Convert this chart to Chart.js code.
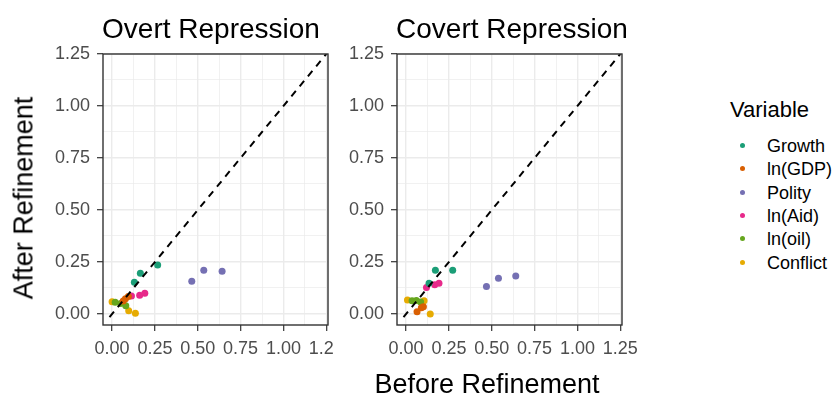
<!DOCTYPE html>
<html lang="en">
<head>
    <meta charset="UTF-8">
    <title>Before vs After Refinement</title>
    <script src="https://cdn.jsdelivr.net/npm/chart.js@4.4.0/dist/chart.umd.min.js"></script>
    <style>
        body { margin: 0; background: #fff; font-family: "Liberation Sans", Arial, sans-serif; }
        #page { position: relative; width: 834px; height: 396px; overflow: hidden; }
        canvas { position: absolute; top: 0; }
        .txt { position: absolute; white-space: nowrap; color: #000; }
        .title { font-size: 28px; line-height: 28px; transform: translateX(-50%); }
        .axis-title { font-size: 27px; line-height: 27px; }
        #legend { position: absolute; left: 730px; top: 0; }
        .legend-title { position: absolute; left: 0; font-size: 22px; line-height: 22px; white-space: nowrap; }
        .legend-item { position: absolute; left: 10px; font-size: 18px; line-height: 18px; white-space: nowrap; }
        .legend-item i { position: absolute; left: 0; top: 6px; width: 5px; height: 5px; border-radius: 50%; }
        .legend-item span { position: absolute; left: 27px; top: 0; }
    </style>
</head>
<body>
<div id="page">
    <canvas id="overt_canvas" width="333" height="396" style="left:0"></canvas>
    <canvas id="covert_canvas" width="300" height="396" style="left:340px"></canvas>

    <div class="txt title" style="left:211px; top:15px">Overt Repression</div>
    <div class="txt title" style="left:512px; top:15px">Covert Repression</div>
    <div class="txt axis-title" style="left:487px; top:371px; transform:translateX(-50%)">Before Refinement</div>
    <div class="txt axis-title" style="left:24px; top:198px; transform:translate(-50%,-50%) rotate(-90deg)">After Refinement</div>

    <div id="legend"></div>
</div>
<script>
    // variables and their Dark2 colours
    const variables = ['Growth', 'ln(GDP)', 'Polity', 'ln(Aid)', 'ln(oil)', 'Conflict'];
    const colors = ['#1B9E77', '#D95F02', '#7570B3', '#E7298A', '#66A61E', '#E6AB02'];

    // overt repression: one row per variable (same order as above)
    const overtBefore = [
        [0.130, 0.165, 0.266],
        [0.065, 0.078, 0.095],
        [0.465, 0.535, 0.642],
        [0.113, 0.161, 0.191],
        [0.018, 0.050, 0.080],
        [0.000, 0.097, 0.136]
    ];
    const overtAfter = [
        [0.153, 0.196, 0.236],
        [0.062, 0.073, 0.084],
        [0.157, 0.210, 0.205],
        [0.087, 0.090, 0.100],
        [0.056, 0.050, 0.040],
        [0.059, 0.016, 0.003]
    ];

    // covert repression
    const covertBefore = [
        [0.134, 0.171, 0.272],
        [0.064, 0.089, 0.101],
        [0.469, 0.539, 0.640],
        [0.119, 0.167, 0.192],
        [0.035, 0.060, 0.085],
        [0.008, 0.105, 0.141]
    ];
    const covertAfter = [
        [0.148, 0.210, 0.210],
        [0.011, 0.030, 0.035],
        [0.132, 0.172, 0.183],
        [0.127, 0.140, 0.148],
        [0.063, 0.065, 0.058],
        [0.067, 0.064, 0.000]
    ];

    // axis range, labelled ticks and grid lines (major + minor)
    const axisMin = -0.053;
    const xAxisMax = 1.26;
    const yAxisMax = 1.25;
    const gridValues = [0, 0.125, 0.25, 0.375, 0.5, 0.625, 0.75, 0.875, 1, 1.125, 1.25];
    const diagonal = [-0.015, 1.25];

    Chart.defaults.font.family = '"Liberation Sans", Arial, sans-serif';

    function isMajor(v) {
        return Math.abs(v / 0.25 - Math.round(v / 0.25)) < 1e-6;
    }

    const panelBorder = {
        id: 'panelBorder',
        afterDraw(chart) {
            const {ctx, chartArea: a} = chart;
            ctx.save();
            ctx.strokeStyle = '#333333';
            ctx.lineWidth = 1.4;
            ctx.strokeRect(a.left, a.top, a.right - a.left, a.bottom - a.top);
            ctx.restore();
        }
    };

    function axisOptions(max, fitFn) {
        return {
            type: 'linear',
            min: axisMin,
            max: max,
            afterBuildTicks: (axis) => { axis.ticks = gridValues.map(v => ({value: v})); },
            afterFit: (s) => {
                fitFn(s);
                // keep edge labels from shrinking the panel
                s.paddingLeft = s.paddingRight = s.paddingTop = s.paddingBottom = 0;
            },
            border: {display: false},
            grid: {
                color: '#EBEBEB',
                lineWidth: (c) => isMajor(c.tick.value) ? 1.4 : 0.7,
                drawTicks: true,
                tickLength: 6,
                tickWidth: 1.2,
                tickColor: (c) => isMajor(c.tick.value) ? '#333333' : 'rgba(0,0,0,0)'
            },
            ticks: {
                autoSkip: false,
                maxRotation: 0,
                padding: 7,
                color: '#4D4D4D',
                font: {size: 18},
                callback: (v) => isMajor(v) ? v.toFixed(2) : ''
            }
        };
    }

    function makePanel(canvasId, before, after, yAxisWidth, rightPad) {
        const datasets = [{
            type: 'line',
            data: diagonal.map(v => ({x: v, y: v})),
            borderColor: '#000',
            borderWidth: 2,
            borderDash: [7, 6],
            pointRadius: 0,
            order: 0
        }];
        variables.forEach((name, i) => {
            datasets.push({
                label: name,
                data: before[i].map((x, j) => ({x: x, y: after[i][j]})),
                backgroundColor: colors[i],
                borderWidth: 0,
                pointRadius: 3.5,
                order: 1 + i
            });
        });
        const ctx = document.getElementById(canvasId).getContext('2d');
        return new Chart(ctx, {
            type: 'scatter',
            data: {datasets: datasets},
            options: {
                responsive: false,
                animation: false,
                devicePixelRatio: 1,
                layout: {
                    autoPadding: false,
                    padding: {left: 0, top: 54, right: rightPad, bottom: 41}
                },
                plugins: {legend: {display: false}, tooltip: {enabled: false}},
                scales: {
                    x: axisOptions(xAxisMax, (s) => { s.height = 30; }),
                    y: axisOptions(yAxisMax, (s) => { s.width = yAxisWidth; })
                }
            },
            plugins: [panelBorder]
        });
    }

    makePanel('overt_canvas', overtBefore, overtAfter, 103, 5);
    makePanel('covert_canvas', covertBefore, covertAfter, 57, 18);

    // legend on the right
    const legend = document.getElementById('legend');
    const head = document.createElement('div');
    head.className = 'legend-title';
    head.style.top = '99px';
    head.textContent = 'Variable';
    legend.appendChild(head);
    variables.forEach((name, i) => {
        const item = document.createElement('div');
        item.className = 'legend-item';
        item.style.top = (137 + i * 23.3) + 'px';
        item.innerHTML = '<i style="background:' + colors[i] + '"></i><span>' + name + '</span>';
        legend.appendChild(item);
    });
</script>
</body>
</html>
